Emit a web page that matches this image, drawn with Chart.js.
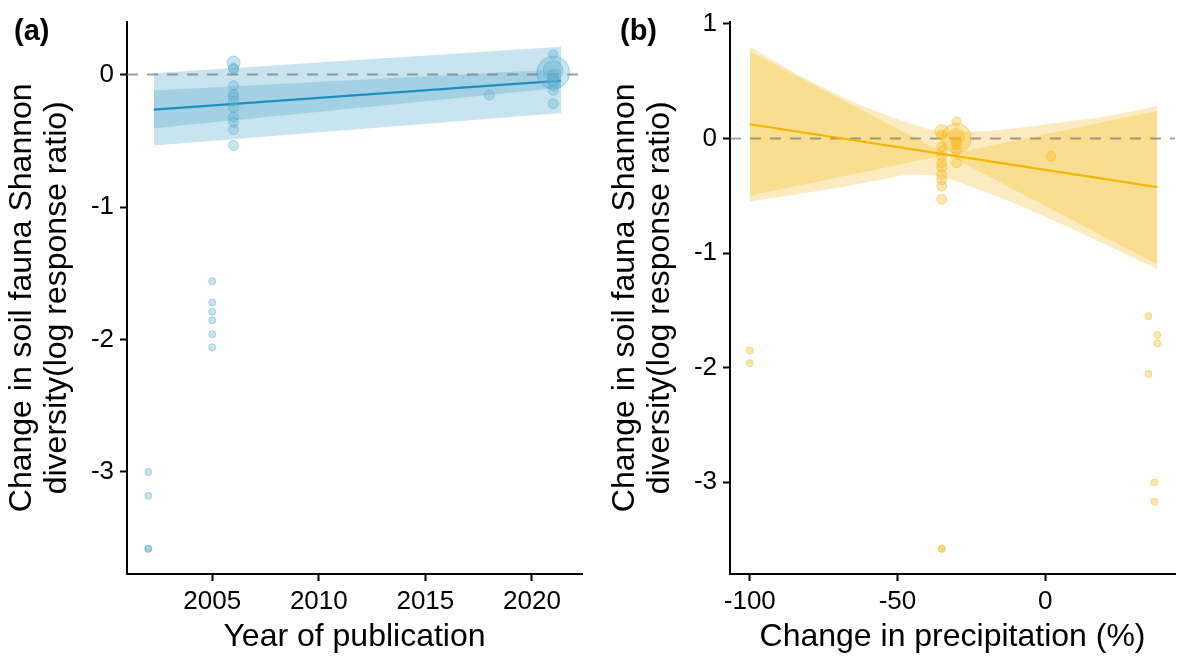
<!DOCTYPE html>
<html>
<head>
<meta charset="utf-8">
<title>Soil fauna Shannon diversity</title>
<script src="https://cdn.jsdelivr.net/npm/chart.js@4.4.1/dist/chart.umd.min.js"></script>
<style>
  html, body { margin: 0; padding: 0; background: #fff; }
  #wrap { position: relative; width: 1181px; height: 657px; overflow: hidden; }
  #chartA { position: absolute; left: 0; top: 0; }
  #chartB { position: absolute; left: 590px; top: 0; }
</style>
</head>
<body>
<div id="wrap">
  <canvas id="chartA" width="590" height="657"></canvas>
  <canvas id="chartB" width="591" height="657"></canvas>
</div>
<script>
// ---------- panel (a): year of publication ----------
var yearTicks = [2005, 2010, 2015, 2020];
var lnrrTicksA = [-3, -2, -1, 0];

var pubYear = [2002, 2002, 2002, 2002,
  2005, 2005, 2005, 2005, 2005, 2005,
  2006, 2006, 2006, 2006, 2006, 2006, 2006, 2006, 2006, 2006, 2006, 2006,
  2018,
  2021, 2021, 2021, 2021, 2021, 2021, 2021, 2021, 2021];
var lnrrA = [-3.00, -3.18, -3.58, -3.58,
  -1.56, -1.72, -1.79, -1.855, -1.96, -2.06,
  0.09, 0.05, 0.04, -0.085, -0.15, -0.17, -0.20, -0.25, -0.32, -0.36, -0.415, -0.535,
  -0.155,
  0.152, 0.015, 0.03, 0.0, -0.03, -0.05, -0.085, -0.12, -0.22];
// study weights (drawn as point size)
var weightA = [1, 1, 1, 1,
  1, 1, 1, 1, 1, 1,
  3.5, 2, 2, 2, 2, 2, 2, 2, 2, 2, 2, 2,
  2,
  1.7, 22, 8, 2, 2, 2, 2, 2, 2];

// fitted meta-regression and its bands
var fitYearA = [2002.26, 2021.37];
var fitA = [-0.265, -0.045];
var innerHighA = [-0.12, 0.04];
var innerLowA = [-0.405, -0.10];
var outerHighA = [0.01, 0.21];
var outerLowA = [-0.535, -0.29];

// ---------- panel (b): change in precipitation ----------
var precipTicks = [-100, -50, 0];
var lnrrTicksB = [-3, -2, -1, 0, 1];

var precip = [-100, -100, 35, 35, 38, 38, 37, 37, -35, -35,
  -35, -35, -35, -35, -35, -35, -35, -35, -35, -35, -35,
  -30, -30, -30, -30, -30, -30, -30,
  2];
var lnrrB = [-1.85, -1.96, -1.55, -2.055, -1.715, -1.787, -3.00, -3.17, -3.58, -3.58,
  0.06, 0.03, -0.07, -0.11, -0.156, -0.214, -0.25, -0.315, -0.36, -0.416, -0.53,
  0.147, 0.003, 0.02, -0.03, -0.055, -0.10, -0.214,
  -0.156];
var weightB = [1, 1, 1, 1, 1, 1, 1, 1, 1, 1,
  4, 2, 2, 2, 2, 2, 2, 2, 2, 2, 2,
  1.7, 18, 5, 2, 2, 2, 2,
  2];

var fitPrecipB = [-100, 38];
var fitB = [0.124, -0.425];
// darker band: two straight edges crossing on the fit line
var bowEdge1B = [0.76, -1.10];
var bowEdge2B = [-0.50, 0.24];
// lighter curved band
var outerPrecipB = [-100, -85, -70, -55, -45, -35, -25, -10, 5, 20, 38];
var outerHighB = [0.80, 0.575, 0.38, 0.215, 0.125, 0.065, 0.062, 0.09, 0.14, 0.19, 0.283];
var outerLowB = [-0.55, -0.49, -0.43, -0.355, -0.315, -0.335, -0.42, -0.57, -0.74, -0.92, -1.14];

Chart.defaults.font.family = '"Liberation Sans", Arial, sans-serif';
Chart.defaults.color = '#000';

function toXY(xs, ys) {
  return xs.map(function (x, i) { return { x: x, y: ys[i] }; });
}

function panelLabel(text, x, y) {
  return {
    id: 'panelLabel',
    afterDraw: function (chart) {
      var ctx = chart.ctx;
      ctx.save();
      ctx.font = 'bold 29px "Liberation Sans", Arial, sans-serif';
      ctx.fillStyle = '#000';
      ctx.textBaseline = 'alphabetic';
      ctx.fillText(text, x, y);
      ctx.restore();
    }
  };
}

function axisStyle(ticksList) {
  return {
    afterBuildTicks: function (scale) {
      scale.ticks = ticksList.map(function (v) { return { value: v }; });
    },
    ticks: {
      autoSkip: false,
      font: { size: 26 },
      color: '#000',
      callback: function (v) { return String(v); }
    },
    grid: {
      display: true,
      drawOnChartArea: false,
      drawTicks: true,
      tickLength: 7,
      tickWidth: 2,
      tickColor: '#000'
    },
    border: { display: true, color: '#000', width: 2 }
  };
}

function makePanel(p) {
  var zeroLine = [{ x: p.xRange[0], y: 0 }, { x: p.xRange[1], y: 0 }];
  var weights = p.weights;

  var xAxis = axisStyle(p.xTicks);
  xAxis.type = 'linear';
  xAxis.min = p.xRange[0];
  xAxis.max = p.xRange[1];
  xAxis.ticks.padding = 5;
  xAxis.afterFit = function (scale) { scale.height = 83; };
  xAxis.title = {
    display: true,
    text: p.xTitle,
    font: { size: 32, lineHeight: 1.1 },
    color: '#000',
    padding: { top: 0, bottom: 2.6 }
  };

  var yAxis = axisStyle(p.yTicks);
  yAxis.type = 'linear';
  yAxis.min = p.yRange[0];
  yAxis.max = p.yRange[1];
  yAxis.ticks.padding = 6;
  yAxis.afterFit = function (scale) { scale.width = p.yAxisWidth; };
  yAxis.title = {
    display: true,
    text: ['Change in soil fauna Shannon', 'diversity(log response ratio)'],
    font: { size: 32, lineHeight: 1.1 },
    color: '#000',
    padding: { top: p.yTitlePad, bottom: 0 }
  };

  return new Chart(document.getElementById(p.canvas), {
    type: 'line',
    data: {
      datasets: [
        {
          label: 'studies',
          data: toXY(p.px, p.py),
          showLine: false,
          pointRadius: function (ctx) { return 3.5 * Math.sqrt(weights[ctx.dataIndex]); },
          pointBackgroundColor: p.pointFill,
          pointBorderColor: p.pointEdge,
          pointBorderWidth: 1,
          order: 0
        },
        {
          label: 'fit',
          data: toXY(p.fitX, p.fitY),
          borderColor: p.lineColor,
          borderWidth: 2.2,
          pointRadius: 0,
          fill: false,
          order: 1
        },
        {
          label: 'zero',
          data: zeroLine,
          borderColor: 'rgba(120,120,120,0.7)',
          borderWidth: 2,
          borderDash: [11, 9],
          pointRadius: 0,
          fill: false,
          order: 2
        },
        {
          label: 'inner band',
          data: toXY(p.innerX, p.innerHigh),
          borderWidth: 0,
          pointRadius: 0,
          backgroundColor: p.innerColor,
          fill: { target: 4, above: p.innerColor, below: p.innerColor },
          order: 3
        },
        {
          label: 'inner band low',
          data: toXY(p.innerX, p.innerLow),
          borderWidth: 0,
          pointRadius: 0,
          fill: false,
          order: 4
        },
        {
          label: 'outer band',
          data: toXY(p.outerX, p.outerHigh),
          borderWidth: 0,
          pointRadius: 0,
          cubicInterpolationMode: p.smooth ? 'monotone' : 'default',
          backgroundColor: p.outerColor,
          fill: { target: 6, above: p.outerColor, below: p.outerColor },
          order: 5
        },
        {
          label: 'outer band low',
          data: toXY(p.outerX, p.outerLow),
          borderWidth: 0,
          pointRadius: 0,
          cubicInterpolationMode: p.smooth ? 'monotone' : 'default',
          fill: false,
          order: 6
        }
      ]
    },
    options: {
      responsive: false,
      animation: false,
      events: [],
      layout: { padding: { top: 19, right: p.rightPad, left: 0, bottom: 0 } },
      scales: { x: xAxis, y: yAxis },
      plugins: {
        legend: { display: false },
        tooltip: { enabled: false }
      }
    },
    plugins: [panelLabel(p.label, p.labelX, 40)]
  });
}

makePanel({
  canvas: 'chartA',
  label: '(a)', labelX: 14,
  xTitle: 'Year of publication',
  xRange: [2001.0, 2022.35], yRange: [-3.77, 0.40],
  xTicks: yearTicks, yTicks: lnrrTicksA,
  yAxisWidth: 127, rightPad: 8, yTitlePad: 4.6,
  px: pubYear, py: lnrrA, weights: weightA,
  fitX: fitYearA, fitY: fitA,
  innerX: fitYearA, innerHigh: innerHighA, innerLow: innerLowA,
  outerX: fitYearA, outerHigh: outerHighA, outerLow: outerLowA,
  smooth: false,
  lineColor: '#1E8DBF',
  innerColor: '#A3D1E3',
  outerColor: '#C7E4EF',
  pointFill: 'rgba(100,180,210,0.35)',
  pointEdge: 'rgba(70,160,200,0.4)'
});

makePanel({
  canvas: 'chartB',
  label: '(b)', labelX: 30,
  xTitle: 'Change in precipitation (%)',
  xRange: [-106.7, 44], yRange: [-3.80, 1.02],
  xTicks: precipTicks, yTicks: lnrrTicksB,
  yAxisWidth: 140, rightPad: 1, yTitlePad: 17.3,
  px: precip, py: lnrrB, weights: weightB,
  fitX: fitPrecipB, fitY: fitB,
  innerX: fitPrecipB, innerHigh: bowEdge1B, innerLow: bowEdge2B,
  outerX: outerPrecipB, outerHigh: outerHighB, outerLow: outerLowB,
  smooth: true,
  lineColor: '#F5B400',
  innerColor: '#F9DE8F',
  outerColor: '#FCEBC1',
  pointFill: 'rgba(245,185,30,0.35)',
  pointEdge: 'rgba(240,180,20,0.4)'
});
</script>
</body>
</html>
